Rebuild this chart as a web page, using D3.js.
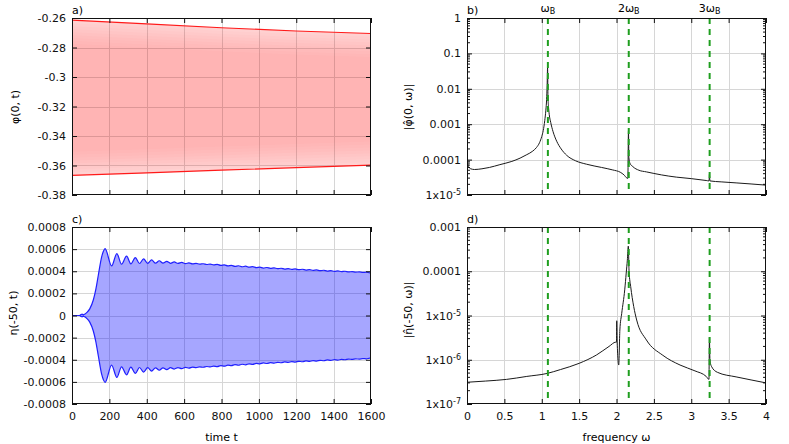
<!DOCTYPE html>
<html>
<head>
<meta charset="utf-8">
<script src="https://cdn.jsdelivr.net/npm/d3@7"></script>
<style>
  body { margin: 0; background: #fff; }
  svg { display: block; font-family: "DejaVu Sans", sans-serif; font-size: 11px; color: #111; }
</style>
</head>
<body>
<svg id="fig" width="789" height="444"></svg>
<script>
// ---- data ----
// a) phi(0,t): upper / lower envelope of the fast oscillation
const phiT     = [0, 400, 800, 1200, 1600];
const phiUpper = [-0.2615, -0.2640, -0.2666, -0.2688, -0.2705];
const phiLower = [-0.3667, -0.3650, -0.3632, -0.3614, -0.3598];

// c) eta(-50,t): upper envelope (the lower one is its mirror image)
const etaT = [0, 40, 48, 54, 60, 68, 80, 95, 114, 128, 141, 159, 168, 177, 212, 240, 265, 292, 315, 339, 361, 383, 405, 426, 447,
  467, 487, 507, 527, 547, 567, 587, 607, 626, 645, 664, 683, 702, 721, 740, 758, 777, 796, 815, 834, 853, 872, 891, 910, 929,
  948, 967, 986, 1005, 1024, 1043, 1062, 1081, 1100, 1119, 1138, 1157, 1176, 1195, 1214, 1233, 1252, 1271, 1290, 1309, 1328,
  1347, 1366, 1385, 1404, 1423, 1442, 1461, 1480, 1499, 1518, 1537, 1556, 1575, 1594, 1600];
const etaUpper = [0, 0, 0.000008, 0.000012, 0.000006, 0.000012, 0.000028, 0.00006, 0.00014, 0.00024, 0.000366, 0.000532, 0.00058, 0.000605,
  0.000448, 0.00056, 0.000464, 0.000536, 0.000467, 0.000524, 0.00047, 0.000512, 0.000472, 0.000503, 0.000473,
  0.000495, 0.000473, 0.000489, 0.000472, 0.000484, 0.000471, 0.00048, 0.000469, 0.000476, 0.000467, 0.000472, 0.000464,
  0.000468, 0.000461, 0.000465, 0.0004575, 0.0004625, 0.0004535, 0.0004585, 0.0004485, 0.0004535, 0.0004445, 0.0004495,
  0.0004405, 0.0004455, 0.0004365, 0.0004415, 0.0004325, 0.000437, 0.000429, 0.000434, 0.000426, 0.000431, 0.000423,
  0.000427, 0.00042, 0.000424, 0.000417, 0.000421, 0.000414, 0.000418, 0.000411, 0.000415, 0.000408, 0.000412, 0.000405,
  0.000409, 0.000402, 0.000406, 0.000399, 0.000403, 0.000397, 0.0004, 0.000394, 0.000397, 0.000392, 0.000394, 0.000389,
  0.000392, 0.000386, 0.000387];

// b) |phi^(0,w)|
const phiW = [0, 0.008, 0.02, 0.05, 0.1, 0.2, 0.3, 0.44, 0.6, 0.71, 0.8, 0.88, 0.93, 0.97, 1.0, 1.02, 1.04, 1.055, 1.065, 1.072,
  1.078, 1.083, 1.09, 1.1, 1.12, 1.15, 1.2, 1.26, 1.334, 1.45, 1.6, 1.8, 1.95, 2.05, 2.1, 2.14, 2.152, 2.16, 2.166, 2.18, 2.22,
  2.3, 2.4, 2.6, 2.8, 3.0, 3.2, 3.238, 3.243, 3.25, 3.4, 3.6, 3.8, 4.0];
const phiAmp = [2.0e-4, 8.9e-5, 6.3e-5, 5.5e-5, 5.25e-5, 5.5e-5, 6.0e-5, 7.2e-5, 8.9e-5, 1.1e-4, 1.38e-4, 1.74e-4, 2.2e-4, 3.0e-4,
  4.5e-4, 6.6e-4, 1.26e-3, 2.5e-3, 5e-3, 0.0126, 0.04, 6.3e-3, 3.2e-3, 1.9e-3, 1.12e-3, 6.3e-4, 3.3e-4, 2.0e-4, 1.32e-4,
  9.3e-5, 7.4e-5, 6.0e-5, 5.1e-5, 4.4e-5, 3.7e-5, 3.0e-5, 2.95e-5, 6.5e-4, 1.12e-4, 7.9e-5, 6.3e-5, 5.0e-5, 4.5e-5, 3.7e-5,
  3.2e-5, 2.9e-5, 2.57e-5, 2.5e-5, 3.8e-5, 2.5e-5, 2.35e-5, 2.2e-5, 2.05e-5, 1.9e-5];

// d) |eta^(-50,w)|
const etaW = [0, 0.25, 0.53, 0.8, 1.07, 1.25, 1.5, 1.735, 1.9, 1.99, 2.0, 2.003, 2.008, 2.03, 2.045, 2.07, 2.11, 2.13, 2.145,
  2.158, 2.168, 2.19, 2.23, 2.27, 2.4, 2.62, 2.85, 3.05, 3.2, 3.237, 3.243, 3.25, 3.27, 3.35, 3.6, 3.8, 4.0];
const etaAmp = [3.1e-7, 3.3e-7, 3.6e-7, 4.2e-7, 4.9e-7, 6.0e-7, 8.3e-7, 1.29e-6, 2.0e-6, 2.5e-6, 2.5e-6, 7.6e-6, 2.8e-6, 7.6e-7,
  4.7e-6, 1.12e-5, 3.8e-5, 9.1e-5, 1.78e-4, 3.7e-4, 1.0e-4, 4.5e-5, 1.6e-5, 7.9e-6, 2.8e-6, 1.26e-6, 7.6e-7, 5.6e-7, 4.2e-7,
  3.6e-7, 3.2e-6, 1.0e-6, 7.1e-7, 5.2e-7, 4.1e-7, 3.5e-7, 3.0e-7];

// harmonics of the Bragg frequency
const harmW      = [1.082, 2.164, 3.246];
const harmLabels = ["ω", "2ω", "3ω"];

// ticks
const tTicks       = [0, 200, 400, 600, 800, 1000, 1200, 1400, 1600];
const tTickLabels  = ["0", "200", "400", "600", "800", "1000", "1200", "1400", "1600"];
const phiTicks     = [-0.38, -0.36, -0.34, -0.32, -0.3, -0.28, -0.26];
const phiTickLabels = ["-0.38", "-0.36", "-0.34", "-0.32", "-0.3", "-0.28", "-0.26"];
const etaTicks     = [-0.0008, -0.0006, -0.0004, -0.0002, 0, 0.0002, 0.0004, 0.0006, 0.0008];
const etaTickLabels = ["-0.0008", "-0.0006", "-0.0004", "-0.0002", "0", "0.0002", "0.0004", "0.0006", "0.0008"];
const wTicks       = [0, 0.5, 1, 1.5, 2, 2.5, 3, 3.5, 4];
const wTickLabels  = ["0", "0.5", "1", "1.5", "2", "2.5", "3", "3.5", "4"];
const phiHatTicks  = [1e-5, 1e-4, 1e-3, 1e-2, 0.1, 1];
const phiHatLabels = ["1x10^-5", "0.0001", "0.001", "0.01", "0.1", "1"];
const etaHatTicks  = [1e-7, 1e-6, 1e-5, 1e-4, 1e-3];
const etaHatLabels = ["1x10^-7", "1x10^-6", "1x10^-5", "0.0001", "0.001"];

// ---- layout ----
const svg = d3.select("#fig");
const boxA = {x0: 72,  x1: 371, y0: 18,  y1: 195};
const boxB = {x0: 467, x1: 766, y0: 18,  y1: 195};
const boxC = {x0: 72,  x1: 371, y0: 227, y1: 404};
const boxD = {x0: 467, x1: 766, y0: 227, y1: 404};

const xT  = d3.scaleLinear().domain([0, 1600]).range([boxA.x0, boxA.x1]);
const xT2 = d3.scaleLinear().domain([0, 1600]).range([boxC.x0, boxC.x1]);
const xW  = d3.scaleLinear().domain([0, 4]).range([boxB.x0, boxB.x1]);
const xW2 = d3.scaleLinear().domain([0, 4]).range([boxD.x0, boxD.x1]);
const yPhi = d3.scaleLinear().domain([-0.38, -0.26]).range([boxA.y1, boxA.y0]);
const yEta = d3.scaleLinear().domain([-0.0008, 0.0008]).range([boxC.y1, boxC.y0]);
const yPhiHat = d3.scaleLog().domain([1e-5, 1]).range([boxB.y1, boxB.y0]);
const yEtaHat = d3.scaleLog().domain([1e-7, 1e-3]).range([boxD.y1, boxD.y0]);

function setLabel(sel, str) {
  sel.text(null);
  let parts = str.split("^");
  sel.append("tspan").text(parts[0]);
  if (parts.length > 1) {
    sel.append("tspan").attr("dy", "-0.45em").attr("font-size", "8px").text(parts[1]);
  }
}

function grid(box, x, y, xt, yt) {
  let g = svg.append("g").attr("stroke", "#d6d6d6").attr("stroke-width", 1);
  g.selectAll(".gx").data(xt.slice(1, -1)).join("line")
    .attr("x1", d => Math.round(x(d)) + 0.5).attr("x2", d => Math.round(x(d)) + 0.5)
    .attr("y1", box.y0).attr("y2", box.y1);
  g.selectAll(".gy").data(yt.slice(1, -1)).join("line")
    .attr("y1", d => Math.round(y(d)) + 0.5).attr("y2", d => Math.round(y(d)) + 0.5)
    .attr("x1", box.x0).attr("x2", box.x1);
}

function clip(id, box) {
  svg.append("clipPath").attr("id", id).append("rect")
    .attr("x", box.x0).attr("y", box.y0).attr("width", box.x1 - box.x0).attr("height", box.y1 - box.y0);
}

function frame(box, x, y, o) {
  let g = svg.append("g");
  let strip = a => a.attr("font-size", null).attr("font-family", null).call(s => s.select(".domain").remove());

  let left = g.append("g").attr("transform", `translate(${box.x0},0)`)
    .call(d3.axisLeft(y).tickValues(o.yTicks).tickSizeInner(-5).tickSizeOuter(0).tickPadding(6)
      .tickFormat((d, i) => o.yLabels[i]));
  strip(left);
  left.selectAll("text").each(function (d, i) { setLabel(d3.select(this), o.yLabels[i]); });

  g.append("g").attr("transform", `translate(${box.x1},0)`)
    .call(d3.axisRight(y).tickValues(o.yTicks).tickSizeInner(-5).tickSizeOuter(0).tickFormat(""))
    .call(strip);

  let bottom = g.append("g").attr("transform", `translate(0,${box.y1})`)
    .call(d3.axisBottom(x).tickValues(o.xTicks).tickSizeInner(-5).tickSizeOuter(0).tickPadding(8)
      .tickFormat((d, i) => o.xLabels ? o.xLabels[i] : ""));
  strip(bottom);

  g.append("g").attr("transform", `translate(0,${box.y0})`)
    .call(d3.axisTop(x).tickValues(o.xTicks).tickSizeInner(-5).tickSizeOuter(0).tickFormat(""))
    .call(strip);

  if (o.log) {
    // minor ticks inside left and right border
    let minor = y.ticks().filter(v => o.yTicks.indexOf(v) < 0);
    g.append("g").attr("stroke", "#111").selectAll("line").data(minor).join("line")
      .attr("x1", box.x0).attr("x2", box.x0 + 3)
      .attr("y1", d => y(d)).attr("y2", d => y(d));
    g.append("g").attr("stroke", "#111").selectAll("line").data(minor).join("line")
      .attr("x1", box.x1).attr("x2", box.x1 - 3)
      .attr("y1", d => y(d)).attr("y2", d => y(d));
  }

  g.selectAll(".tick line").attr("stroke", "#111");
  g.append("rect").attr("x", box.x0 + 0.5).attr("y", box.y0 + 0.5)
    .attr("width", box.x1 - box.x0 - 1).attr("height", box.y1 - box.y0 - 1)
    .attr("fill", "none").attr("stroke", "#111").attr("stroke-width", 1);

  svg.append("text").attr("x", box.x0).attr("y", box.y0 - 4).text(o.tag);
}

function yTitle(x, y, str) {
  let t = svg.append("text").attr("transform", `translate(${x},${y}) rotate(-90)`)
    .attr("text-anchor", "middle").attr("dy", "0.35em");
  t.text(str);
}

// ---- a) ----
clip("clipA", boxA);
grid(boxA, xT, yPhi, tTicks, phiTicks);
const phiRows = phiT.map((t, i) => ({t: t, hi: phiUpper[i], lo: phiLower[i]}));
const gA = svg.append("g").attr("clip-path", "url(#clipA)");
gA.append("path").datum(phiRows)
  .attr("d", d3.area().x(d => xT(d.t)).y0(d => yPhi(d.lo)).y1(d => yPhi(d.hi)))
  .attr("fill", "#ff0000").attr("fill-opacity", 0.18);
// denser core of the fast oscillation, fading out toward the envelope
d3.range(1, 9).forEach(k => {
  let inset = k * 0.002;
  gA.append("path").datum(phiRows)
    .attr("d", d3.area().x(d => xT(d.t)).y0(d => yPhi(d.lo + inset)).y1(d => yPhi(d.hi - inset)))
    .attr("fill", "#ff0000").attr("fill-opacity", 0.014);
});
gA.append("path").datum(phiRows).attr("d", d3.line().x(d => xT(d.t)).y(d => yPhi(d.hi)))
  .attr("fill", "none").attr("stroke", "#ff1a1a").attr("stroke-width", 1.2);
gA.append("path").datum(phiRows).attr("d", d3.line().x(d => xT(d.t)).y(d => yPhi(d.lo)))
  .attr("fill", "none").attr("stroke", "#ff1a1a").attr("stroke-width", 1.2);
frame(boxA, xT, yPhi, {xTicks: tTicks, yTicks: phiTicks, yLabels: phiTickLabels, tag: "a)"});
yTitle(15, 107, "φ(0, t)");

// ---- c) ----
clip("clipC", boxC);
grid(boxC, xT2, yEta, tTicks, etaTicks);
const etaRows = etaT.map((t, i) => ({t: t, v: etaUpper[i]}));
const gC = svg.append("g").attr("clip-path", "url(#clipC)");
gC.append("path").datum(etaRows)
  .attr("d", d3.area().curve(d3.curveMonotoneX).x(d => xT2(d.t)).y0(d => yEta(-d.v)).y1(d => yEta(d.v)))
  .attr("fill", "#0000ff").attr("fill-opacity", 0.35);
gC.append("path").datum(etaRows)
  .attr("d", d3.line().curve(d3.curveMonotoneX).x(d => xT2(d.t)).y(d => yEta(d.v)))
  .attr("fill", "none").attr("stroke", "#1f1fff").attr("stroke-width", 1.2);
gC.append("path").datum(etaRows)
  .attr("d", d3.line().curve(d3.curveMonotoneX).x(d => xT2(d.t)).y(d => yEta(-d.v)))
  .attr("fill", "none").attr("stroke", "#1f1fff").attr("stroke-width", 1.2);
frame(boxC, xT2, yEta, {xTicks: tTicks, xLabels: tTickLabels, yTicks: etaTicks, yLabels: etaTickLabels, tag: "c)"});
yTitle(13, 313, "η(-50, t)");
svg.append("text").attr("x", (boxC.x0 + boxC.x1) / 2).attr("y", 441).attr("text-anchor", "middle").text("time t");

// ---- b) ----
clip("clipB", boxB);
grid(boxB, xW, yPhiHat, wTicks, phiHatTicks);
const gB = svg.append("g").attr("clip-path", "url(#clipB)");
gB.append("path").datum(phiW.map((w, i) => [w, phiAmp[i]]))
  .attr("d", d3.line().curve(d3.curveMonotoneX).x(d => xW(d[0])).y(d => yPhiHat(d[1])))
  .attr("fill", "none").attr("stroke", "#1a1a1a").attr("stroke-width", 1);
gB.selectAll(".harm").data(harmW).join("line")
  .attr("x1", d => xW(d)).attr("x2", d => xW(d)).attr("y1", boxB.y0).attr("y2", boxB.y1)
  .attr("stroke", "#1f9e1f").attr("stroke-width", 2).attr("stroke-dasharray", "6,5");
frame(boxB, xW, yPhiHat, {xTicks: wTicks, yTicks: phiHatTicks, yLabels: phiHatLabels, tag: "b)", log: true});
svg.selectAll(".harmLab").data(harmW).join("text")
  .attr("x", d => xW(d)).attr("y", 12).attr("text-anchor", "middle")
  .each(function (d, i) {
    let t = d3.select(this);
    t.append("tspan").text(harmLabels[i]);
    t.append("tspan").attr("dy", "0.3em").attr("font-size", "8px").text("B");
  });
yTitle(408, 107, "|φ\u0302(0, ω)|");

// ---- d) ----
clip("clipD", boxD);
grid(boxD, xW2, yEtaHat, wTicks, etaHatTicks);
const gD = svg.append("g").attr("clip-path", "url(#clipD)");
gD.append("path").datum(etaW.map((w, i) => [w, etaAmp[i]]))
  .attr("d", d3.line().curve(d3.curveMonotoneX).x(d => xW2(d[0])).y(d => yEtaHat(d[1])))
  .attr("fill", "none").attr("stroke", "#1a1a1a").attr("stroke-width", 1);
gD.selectAll(".harm").data(harmW).join("line")
  .attr("x1", d => xW2(d)).attr("x2", d => xW2(d)).attr("y1", boxD.y0).attr("y2", boxD.y1)
  .attr("stroke", "#1f9e1f").attr("stroke-width", 2).attr("stroke-dasharray", "6,5");
frame(boxD, xW2, yEtaHat, {xTicks: wTicks, xLabels: wTickLabels, yTicks: etaHatTicks, yLabels: etaHatLabels, tag: "d)", log: true});
yTitle(408, 310, "|η\u0302(-50, ω)|");
svg.append("text").attr("x", (boxD.x0 + boxD.x1) / 2).attr("y", 441).attr("text-anchor", "middle").text("frequency ω");
</script>
</body>
</html>
